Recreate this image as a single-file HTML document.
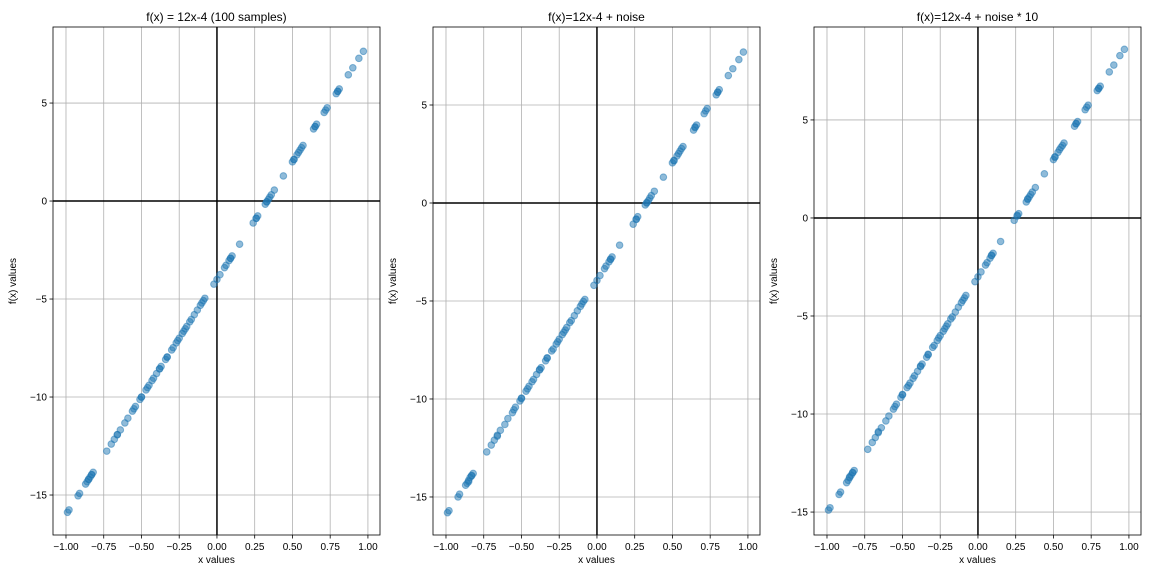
<!DOCTYPE html>
<html><head><meta charset="utf-8"><style>
body{margin:0;background:#fff;}
svg text{font-family:"Liberation Sans","DejaVu Sans",sans-serif;}
</style></head><body>
<svg id="fig" width="1152" height="576" xmlns="http://www.w3.org/2000/svg"></svg>
<script>
const xs = [-0.99,-0.98,-0.92,-0.91,-0.87,-0.86,-0.85,-0.85,-0.84,-0.83,
-0.83,-0.82,-0.73,-0.70,-0.68,-0.66,-0.66,-0.64,-0.61,-0.59,
-0.56,-0.55,-0.54,-0.51,-0.50,-0.50,-0.47,-0.46,-0.45,-0.43,
-0.42,-0.40,-0.38,-0.38,-0.37,-0.34,-0.33,-0.33,-0.30,-0.29,
-0.27,-0.26,-0.25,-0.23,-0.22,-0.21,-0.20,-0.18,-0.17,-0.15,
-0.13,-0.11,-0.10,-0.09,-0.08,-0.02,0.00,0.02,0.05,0.06,
0.08,0.09,0.09,0.10,0.15,0.24,0.26,0.26,0.27,0.32,
0.33,0.33,0.34,0.35,0.36,0.38,0.44,0.50,0.51,0.51,
0.53,0.54,0.55,0.56,0.57,0.64,0.65,0.65,0.66,0.71,
0.72,0.73,0.79,0.80,0.80,0.81,0.87,0.90,0.94,0.97];
const y1 = [-15.88,-15.76,-15.04,-14.92,-14.44,-14.32,-14.2,-14.2,-14.08,-13.96,
-13.96,-13.84,-12.76,-12.4,-12.16,-11.92,-11.92,-11.68,-11.32,-11.08,
-10.72,-10.6,-10.48,-10.12,-10,-10,-9.64,-9.52,-9.4,-9.16,
-9.04,-8.8,-8.56,-8.56,-8.44,-8.08,-7.96,-7.96,-7.6,-7.48,
-7.24,-7.12,-7,-6.76,-6.64,-6.52,-6.4,-6.16,-6.04,-5.8,
-5.56,-5.32,-5.2,-5.08,-4.96,-4.24,-4,-3.76,-3.4,-3.28,
-3.04,-2.92,-2.92,-2.8,-2.2,-1.12,-0.88,-0.88,-0.76,-0.16,
-0.04,-0.04,0.08,0.2,0.32,0.56,1.28,2,2.12,2.12,
2.36,2.48,2.6,2.72,2.84,3.68,3.8,3.8,3.92,4.52,
4.64,4.76,5.48,5.6,5.6,5.72,6.44,6.8,7.28,7.64];
const y2 = [-15.8,-15.7,-15.0,-14.86,-14.4,-14.3,-14.15,-14.22,-14.0,-13.9,
-13.92,-13.8,-12.7,-12.35,-12.1,-11.9,-11.85,-11.6,-11.3,-11.0,
-10.7,-10.55,-10.42,-10.1,-9.95,-9.98,-9.6,-9.48,-9.35,-9.12,
-9.0,-8.75,-8.52,-8.5,-8.4,-8.05,-7.9,-7.92,-7.55,-7.45,
-7.2,-7.08,-6.95,-6.72,-6.6,-6.48,-6.35,-6.1,-6.0,-5.75,
-5.5,-5.28,-5.15,-5.02,-4.92,-4.2,-3.95,-3.7,-3.35,-3.22,
-3.0,-2.88,-2.86,-2.75,-2.15,-1.08,-0.82,-0.84,-0.7,-0.1,
0.0,0.02,0.12,0.25,0.38,0.6,1.32,2.05,2.18,2.15,
2.4,2.52,2.65,2.78,2.88,3.72,3.85,3.88,3.98,4.56,
4.7,4.82,5.52,5.65,5.66,5.78,6.5,6.85,7.32,7.7];
const y3 = [-14.9,-14.78,-14.1,-13.98,-13.5,-13.38,-13.25,-13.2,-13.12,-13.0,
-12.98,-12.88,-11.8,-11.45,-11.2,-10.95,-10.9,-10.7,-10.35,-10.1,
-9.75,-9.62,-9.5,-9.15,-9.02,-9.0,-8.65,-8.55,-8.42,-8.18,
-8.05,-7.82,-7.58,-7.55,-7.45,-7.1,-6.98,-6.95,-6.6,-6.5,
-6.25,-6.12,-6.0,-5.78,-5.65,-5.52,-5.4,-5.15,-5.05,-4.8,
-4.55,-4.32,-4.2,-4.08,-3.95,-3.25,-3.0,-2.75,-2.4,-2.28,
-2.05,-1.92,-1.9,-1.8,-1.2,-0.12,0.1,0.14,0.22,0.82,
0.95,0.98,1.08,1.2,1.32,1.55,2.25,2.98,3.1,3.12,
3.35,3.48,3.6,3.7,3.82,4.68,4.8,4.82,4.92,5.52,
5.65,5.75,6.5,6.6,6.62,6.72,7.45,7.8,8.28,8.6];
const xTicks = [-1.0,-0.75,-0.5,-0.25,0.0,0.25,0.5,0.75,1.0];
const xTickLabels = ["−1.00","−0.75","−0.50","−0.25","0.00","0.25","0.50","0.75","1.00"];
const yTicks = [5,0,-5,-10,-15];
const yTickLabels = ["5","0","−5","−10","−15"];
const titles = ["f(x) = 12x-4 (100 samples)","f(x)=12x-4 + noise","f(x)=12x-4 + noise * 10"];
const ylims = [[-17.04,8.88],[-16.94,8.98],[-16.17,9.74]];
const panelsY = [y1,y2,y3];
const lefts = [53,433,814];

const NS="http://www.w3.org/2000/svg";
const svg=document.getElementById('fig');
function mk(tag,attrs,parent){const e=document.createElementNS(NS,tag);for(const k in attrs)e.setAttribute(k,attrs[k]);(parent||svg).appendChild(e);return e;}
const topY=27,bottomY=535,W=327;
for(let p=0;p<3;p++){
  const L=lefts[p],R=L+W;
  const g=mk('g',{});
  
  
  const sx=v=>L+(v-(-1.086))/(2.166)*W;
  const lo=ylims[p][0],hi=ylims[p][1];
  const sy=v=>bottomY-(v-lo)/(hi-lo)*(bottomY-topY);
  xTicks.forEach((t,i)=>{
    const x=sx(t);
    const gl=mk('line',{x1:x,x2:x,y1:topY,y2:bottomY,stroke:'#b0b0b0','stroke-width':0.8},g);
    
    
    mk('line',{x1:x,x2:x,y1:bottomY,y2:bottomY+3.5,stroke:'#000','stroke-width':0.8},g);
    const tx=mk('text',{x:x,y:bottomY+15,'font-size':10,'text-anchor':'middle'},g);
    tx.textContent=xTickLabels[i];
    
    
  });
  yTicks.forEach((t,i)=>{
    const y=sy(t);
    const gl=mk('line',{x1:L,x2:R,y1:y,y2:y,stroke:'#b0b0b0','stroke-width':0.8},g);
    
    
    mk('line',{x1:L-3.5,x2:L,y1:y,y2:y,stroke:'#000','stroke-width':0.8},g);
    const tx=mk('text',{x:L-6,y:y+3.5,'font-size':10,'text-anchor':'end'},g);
    tx.textContent=yTickLabels[i];
    
    
  });
  const hz=mk('line',{x1:L,x2:R,y1:sy(0),y2:sy(0),stroke:'#000','stroke-width':1.5},g);
  
  
  const vz=mk('line',{x1:sx(0),x2:sx(0),y1:topY,y2:bottomY,stroke:'#000','stroke-width':1.5},g);
  
  
  const ys=panelsY[p];
  for(let i=0;i<xs.length;i++){
    const c=mk('circle',{cx:sx(xs[i]),cy:sy(ys[i]),r:3.3,fill:'#1f77b4','fill-opacity':0.5,stroke:'#1f77b4','stroke-opacity':0.5,'stroke-width':1},g);
    
    
  }
  const fr=mk('rect',{x:L,y:topY,width:W,height:bottomY-topY,fill:'none',stroke:'#000','stroke-width':0.8},g);
  
  
  const t=mk('text',{x:L+W/2,y:21,'font-size':12,'text-anchor':'middle'},g);
  t.textContent=titles[p];
  
  
  const xl=mk('text',{x:L+W/2,y:563,'font-size':10,'text-anchor':'middle'},g);
  xl.textContent='x values';
  
  
  const yl=mk('text',{x:0,y:0,'font-size':10,'text-anchor':'middle',transform:`translate(${L-37},${(topY+bottomY)/2}) rotate(-90)`},g);
  yl.textContent='f(x) values';
  
  
}
</script>
</body></html>
